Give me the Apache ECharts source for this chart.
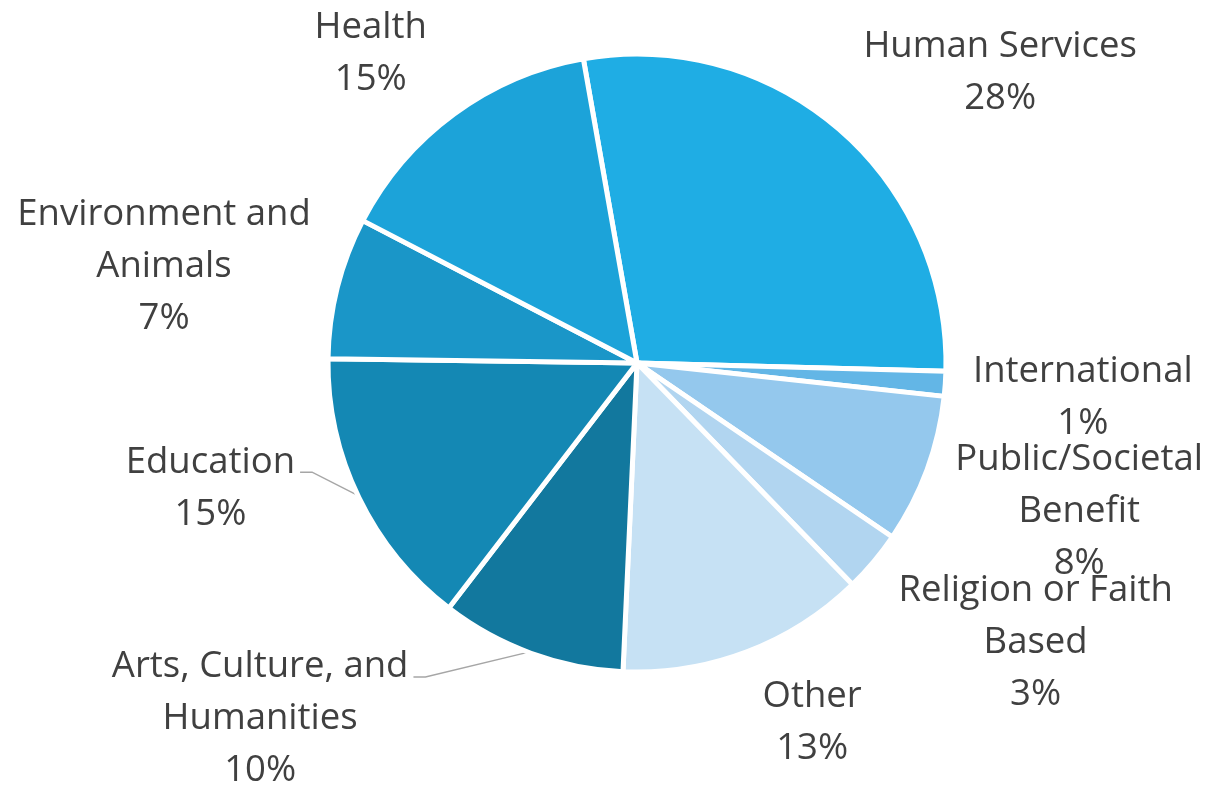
<!DOCTYPE html>
<html>
<head>
<meta charset="utf-8">
<script src="https://cdn.jsdelivr.net/npm/echarts@6/dist/echarts.min.js"></script>
<style>
html,body{margin:0;padding:0;background:#fff;}
#chart{width:1209px;height:785px;}
</style>
</head>
<body>
<div id="chart"></div>
<script>
// Data
const categories = [
  'Human Services',
  'International',
  'Public/Societal\nBenefit',
  'Religion or Faith\nBased',
  'Other',
  'Arts, Culture, and\nHumanities',
  'Education',
  'Environment and\nAnimals',
  'Health'
];
const values = [28.2, 1.3, 7.8, 3.2, 13.0, 9.7, 14.8, 7.4, 14.6];
const colors = ['#1FADE4', '#63B6E6', '#94C8ED', '#B1D5F0', '#C6E1F4', '#12789E', '#1488B4', '#1A96C8', '#1CA3D9'];

// Label placement (style): angle clockwise from top (deg), distance from centre (px)
const labelAngle = [51.2, 94.2, 108.4, 124.9, 153.9, 226.8, 253.9, 281.7, 319.5];
const labelDist  = [466, 447, 466, 486, 398, 517, 444, 483, 410];
const hasLeader  = [false, false, false, false, false, true, true, false, false];

const cx = 637, cy = 363, R = 309;
const startDeg = -10; // clockwise from top
const FONT_SIZE = 36.5, LINE_H = 52, FONT = '"Open Sans", "Noto Sans", sans-serif';

const measureCtx = document.createElement('canvas').getContext('2d');
measureCtx.font = FONT_SIZE + 'px ' + FONT;
function textWidth(s) {
  return Math.max.apply(null, s.split('\n').map(l => measureCtx.measureText(l).width));
}
const total = values.reduce((a, b) => a + b, 0);

const chart = echarts.init(document.getElementById('chart'));
chart.setOption({
  animation: false,
  backgroundColor: '#ffffff',
  series: [{
    type: 'pie',
    center: [cx, cy],
    radius: R,
    startAngle: 90 - startDeg,
    clockwise: true,
    avoidLabelOverlap: false,
    percentPrecision: 0,
    itemStyle: { borderColor: '#ffffff', borderWidth: 5 },
    label: {
      show: true,
      position: 'outside',
      formatter: '{b}\n{d}%',
      fontFamily: FONT,
      fontSize: FONT_SIZE,
      lineHeight: LINE_H,
      color: '#404040',
      align: 'center'
    },
    labelLine: { show: false, lineStyle: { color: '#A6A6A6', width: 1.5 } },
    emphasis: { disabled: true },
    labelLayout: function (p) {
      const i = p.dataIndex;
      const a = labelAngle[i] * Math.PI / 180;
      const x = cx + labelDist[i] * Math.sin(a);
      const y = cy + 2 - labelDist[i] * Math.cos(a);
      const out = { x: x, y: y, align: 'center', verticalAlign: 'middle' };
      if (hasLeader[i]) {
        let cum = 0;
        for (let k = 0; k < i; k++) cum += values[k];
        const mid = (startDeg + 360 * (cum + values[i] / 2) / total) * Math.PI / 180;
        const ex = cx + (R - 2) * Math.sin(mid), ey = cy - (R - 2) * Math.cos(mid);
        const txt = categories[i] + '\n' + Math.round(values[i]) + '%';
        const n = txt.split('\n').length;
        const endX = x + textWidth(txt) / 2 + 5;
        const endY = y - (n - 1) * LINE_H / 2 + 10;
        out.labelLinePoints = [[ex, ey], [endX + 12, endY], [endX, endY]];
      }
      return out;
    },
    data: categories.map((c, i) => ({
      name: c,
      value: values[i],
      itemStyle: { color: colors[i] },
      labelLine: { show: hasLeader[i] }
    }))
  }]
});
</script>
</body>
</html>
